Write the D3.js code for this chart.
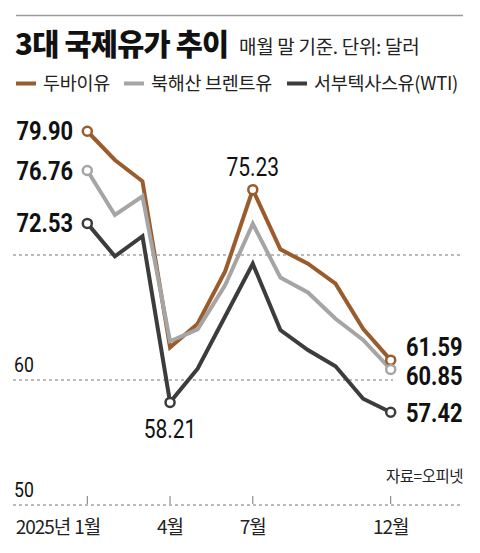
<!DOCTYPE html>
<html>
<head>
<meta charset="utf-8">
<script src="https://cdn.jsdelivr.net/npm/d3@7"></script>
<style>
  html, body { margin: 0; padding: 0; background: #fff; }
  svg { display: block; }
  .kr { font-family: "Noto Sans CJK KR", "Noto Sans", sans-serif; }
  .num { font-family: "Roboto", "Liberation Sans", sans-serif; }
</style>
</head>
<body>
<div id="chart"></div>
<script>
// Data
const months = ['1월','2월','3월','4월','5월','6월','7월','8월','9월','10월','11월','12월']
const dubai = [79.90, 77.6, 75.9, 62.6, 64.5, 68.7, 75.23, 70.45, 69.3, 67.7, 64.1, 61.59]
const brent = [76.76, 73.2, 74.7, 63.1, 64.05, 67.6, 72.5, 68.2, 67.0, 64.9, 63.2, 60.85]
const wti = [72.53, 69.9, 71.5, 58.21, 60.9, 65.1, 69.3, 64.0, 62.4, 61.1, 58.5, 57.42]
const seriesNames = ['두바이유', '북해산 브렌트유', '서부텍사스유(WTI)']
const yTicks = [50, 60, 70]
const xTickMonths = ['1월', '4월', '7월', '12월']

;(({ width, height }) => {
  const colors = ['#9a5c2c', '#a5a5a5', '#3c3c3c']
  const series = [dubai, brent, wti]

  const svg = d3.select('#chart').append('svg')
    .attr('width', width)
    .attr('height', height)

  // condensed number text
  const numText = (px, py, str, { anchor = 'start', size = 24, weight = 400, dy = 0 } = {}) =>
    svg.append('text').attr('class', 'num')
      .attr('transform', `translate(${px},${py}) scale(0.84,1)`)
      .attr('dy', dy)
      .attr('text-anchor', anchor)
      .attr('font-size', size)
      .attr('font-weight', weight)
      .attr('fill', '#111')
      .text(str)

  // Scales
  const x = d3.scalePoint().domain(months).range([87.3, 390.7])
  const y = d3.scaleLinear().domain([50, 70]).range([505, 255])

  // Top rule
  svg.append('line')
    .attr('x1', 16).attr('x2', 463).attr('y1', 15.5).attr('y2', 15.5)
    .attr('stroke', '#9a9a9a').attr('stroke-width', 1.5)

  // Title
  svg.append('text').attr('class', 'kr')
    .attr('x', 15).attr('y', 55)
    .attr('font-size', 29.5).attr('font-weight', 900)
    .attr('letter-spacing', -0.8)
    .attr('fill', '#111')
    .text('3대 국제유가 추이')
  svg.append('text').attr('class', 'kr')
    .attr('x', 239).attr('y', 54)
    .attr('font-size', 19)
    .attr('letter-spacing', -0.3)
    .attr('fill', '#222')
    .text('매월 말 기준. 단위: 달러')

  // Legend
  const legendX = [16, 124, 287]
  seriesNames.forEach((name, i) => {
    svg.append('rect')
      .attr('x', legendX[i]).attr('y', 81.5)
      .attr('width', 20).attr('height', 4)
      .attr('fill', colors[i])
    svg.append('text').attr('class', 'kr')
      .attr('x', legendX[i] + 27).attr('y', 90)
      .attr('font-size', 18.5)
      .attr('letter-spacing', -0.3)
      .attr('fill', '#222')
      .text(name)
  })

  // Grid
  const gridEnd = { 50: 462, 60: 393, 70: 462 }
  svg.append('g').selectAll('line')
    .data(yTicks)
    .join('line')
    .attr('x1', 13).attr('x2', d => gridEnd[d])
    .attr('y1', d => y(d)).attr('y2', d => y(d))
    .attr('stroke', '#777').attr('stroke-width', 1)
    .attr('stroke-dasharray', '3,3')

  yTicks.filter(d => d !== 70).forEach(d => {
    numText(14, y(d) - 8, d, { size: 21 })
  })

  // X axis ticks
  svg.append('g').selectAll('line')
    .data(xTickMonths)
    .join('line')
    .attr('x1', d => x(d)).attr('x2', d => x(d))
    .attr('y1', y(50) - 9).attr('y2', y(50) - 1)
    .attr('stroke', '#777').attr('stroke-width', 1)

  svg.append('g').selectAll('text')
    .data(xTickMonths)
    .join('text').attr('class', 'kr')
    .attr('x', d => x(d)).attr('y', 534)
    .attr('text-anchor', 'middle')
    .attr('font-size', 19)
    .attr('letter-spacing', -1)
    .attr('fill', '#222')
    .text(d => d)
  svg.append('text').attr('class', 'kr')
    .attr('x', x('1월') - 17).attr('y', 534)
    .attr('text-anchor', 'end')
    .attr('font-size', 19)
    .attr('letter-spacing', -1)
    .attr('fill', '#222')
    .text('2025년')

  // Source
  svg.append('text').attr('class', 'kr')
    .attr('x', 463).attr('y', 482)
    .attr('text-anchor', 'end')
    .attr('font-size', 15.5)
    .attr('letter-spacing', -0.5)
    .attr('fill', '#222')
    .text('자료=오피넷')

  // Lines
  const line = d3.line()
    .x((d, i) => x(months[i]))
    .y(d => y(d))
  series.forEach((values, i) => {
    svg.append('path')
      .datum(values)
      .attr('d', line)
      .attr('fill', 'none')
      .attr('stroke', colors[i])
      .attr('stroke-width', 4)
      .attr('stroke-linejoin', 'miter')
  })

  // Markers
  const markers = [
    { s: 0, i: 0 }, { s: 1, i: 0 }, { s: 2, i: 0 },
    { s: 0, i: 6 }, { s: 2, i: 3 },
    { s: 0, i: 11 }, { s: 1, i: 11 }, { s: 2, i: 11 }
  ]
  svg.append('g').selectAll('circle')
    .data(markers)
    .join('circle')
    .attr('cx', d => x(months[d.i]))
    .attr('cy', d => y(series[d.s][d.i]))
    .attr('r', 4.5)
    .attr('fill', '#fff')
    .attr('stroke', d => colors[d.s])
    .attr('stroke-width', 2.5)

  // Value labels
  const fmt = d3.format('.2f')
  series.forEach(values => {
    numText(73, y(values[0]), fmt(values[0]), { anchor: 'end', size: 26, weight: 700, dy: '0.35em' })
  })
  const rightOffsets = [-13, 7, 1]
  series.forEach((values, i) => {
    numText(406, y(values[11]) + rightOffsets[i], fmt(values[11]), { size: 26, weight: 700, dy: '0.35em' })
  })
  numText(x('7월'), y(dubai[6]) - 14, fmt(dubai[6]), { anchor: 'middle', size: 25 })
  numText(x('4월'), y(wti[3]) + 36, fmt(wti[3]), { anchor: 'middle', size: 25 })
})({ width: 480, height: 553 })
</script>
</body>
</html>
